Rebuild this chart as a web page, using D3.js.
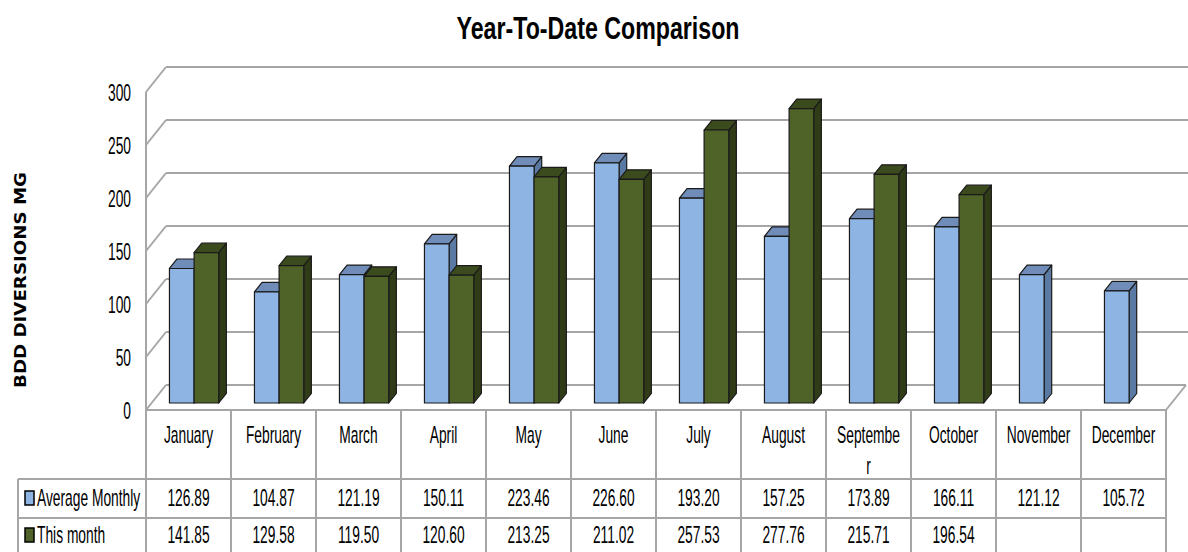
<!DOCTYPE html>
<html>
<head>
<meta charset="utf-8">
<script src="https://cdn.jsdelivr.net/npm/d3@7"></script>
<style>
  body { margin: 0; background: #fff; }
  svg { display: block; }
  text { font-family: "Liberation Sans", Arial, sans-serif; fill: #000; }
</style>
</head>
<body>
<div id="chart"></div>
<script>
const months = ["January", "February", "March", "April", "May", "June", "July", "August", "September", "October", "November", "December"];
const seriesNames = ["Average Monthly", "This month"];
const avgMonthly = [126.89, 104.87, 121.19, 150.11, 223.46, 226.60, 193.20, 157.25, 173.89, 166.11, 121.12, 105.72];
const thisMonth = [141.85, 129.58, 119.50, 120.60, 213.25, 211.02, 257.53, 277.76, 215.71, 196.54, null, null];
const yTicks = [0, 50, 100, 150, 200, 250, 300];

const seriesValues = [avgMonthly, thisMonth];
const colors = [
  { front: "#8db4e2", top: "#6f8db8", side: "#5b7aa3" },
  { front: "#4f6228", top: "#3c4b1e", side: "#303c17" }
];

const width = 1188, height = 552;
const svg = d3.select("#chart").append("svg")
  .attr("width", width)
  .attr("height", height);

// plot area (front plane) and 3d depth
const left = 146, right = 1166;
const dx = 20, dy = -25;
const barF = 0.28, barB = 0.66; // bar front/back depth fractions
const gridColor = "#a6a6a6";
const squeeze = 0.6; // narrow look of the original font
const fs = 23;

const cols = d3.scaleBand().domain(months).range([left, right]);
const x0 = d3.scaleBand().domain(months).range([left, right]).paddingInner(0.42).paddingOuter(0.21);
const x1 = d3.scaleBand().domain(seriesNames).range([0, x0.bandwidth()]);
const y = d3.scaleLinear().domain([0, 300]).range([410, 92]);

function narrowText(g, x, yy, txt, size, anchor) {
  return g.append("text")
    .attr("transform", `translate(${x},${yy}) scale(${squeeze},1)`)
    .attr("text-anchor", anchor || "middle")
    .attr("dominant-baseline", "central")
    .attr("font-size", size)
    .text(txt);
}

// title
svg.append("text")
  .attr("x", 598)
  .attr("y", 39)
  .attr("text-anchor", "middle")
  .attr("font-size", 32)
  .attr("font-weight", "bold")
  .attr("textLength", 283)
  .attr("lengthAdjust", "spacingAndGlyphs")
  .text("Year-To-Date Comparison");

// y axis title
svg.append("text")
  .attr("transform", "translate(26,280) rotate(-90)")
  .attr("text-anchor", "middle")
  .style("font-family", "'DejaVu Sans', sans-serif")
  .attr("font-size", 16)
  .attr("font-weight", "bold")
  .attr("textLength", 216)
  .attr("lengthAdjust", "spacingAndGlyphs")
  .text("BDD DIVERSIONS MG");

// walls: left wall diagonals + back wall gridlines
const walls = svg.append("g")
  .attr("stroke", gridColor)
  .attr("stroke-width", 2)
  .attr("fill", "none");

walls.selectAll("line.diag")
  .data(yTicks)
  .enter().append("line")
  .attr("x1", left).attr("y1", d => y(d))
  .attr("x2", left + dx).attr("y2", d => y(d) + dy);

walls.selectAll("line.back")
  .data(yTicks)
  .enter().append("line")
  .attr("x1", left + dx).attr("y1", d => y(d) + dy)
  .attr("x2", d => d === 0 ? right + dx : width).attr("y2", d => y(d) + dy);

// floor right edge
walls.append("line")
  .attr("x1", right).attr("y1", y(0))
  .attr("x2", right + dx).attr("y2", y(0) + dy);

// front vertical axis line
walls.append("line")
  .attr("x1", left).attr("y1", y(300))
  .attr("x2", left).attr("y2", y(0));

// y tick labels
const tickG = svg.append("g");
yTicks.forEach(t => narrowText(tickG, 131, y(t) + 1, t, fs, "end"));

// bars
const bars = svg.append("g")
  .attr("stroke", "#1a1a1a")
  .attr("stroke-width", 1.2)
  .attr("stroke-linejoin", "round");

const ddx = dx * (barB - barF), ddy = dy * (barB - barF);
months.forEach((m, i) => {
  seriesNames.forEach((s, j) => {
    const v = seriesValues[j][i];
    if (v == null) return;
    const xl = x0(m) + x1(s) + dx * barF;
    const xr = xl + x1.bandwidth();
    const yb = y(0) + dy * barF;
    const yt = y(v) + dy * barF;
    const c = colors[j];
    bars.append("polygon")
      .attr("points", [[xr, yt], [xr + ddx, yt + ddy], [xr + ddx, yb + ddy], [xr, yb]].join(" "))
      .attr("fill", c.side);
    bars.append("polygon")
      .attr("points", [[xl, yt], [xl + ddx, yt + ddy], [xr + ddx, yt + ddy], [xr, yt]].join(" "))
      .attr("fill", c.top);
    bars.append("rect")
      .attr("x", xl).attr("y", yt)
      .attr("width", xr - xl).attr("height", yb - yt)
      .attr("fill", c.front);
  });
});

// data table
const table = svg.append("g");
const tLines = table.append("g")
  .attr("stroke", gridColor)
  .attr("stroke-width", 2);

const rowTop = 479, rowMid = 518, rowBottom = 552;

tLines.append("line")
  .attr("x1", left).attr("y1", y(0))
  .attr("x2", right).attr("y2", y(0));
tLines.selectAll("line.col")
  .data(months.map(m => cols(m)).concat([right]))
  .enter().append("line")
  .attr("x1", d => d).attr("y1", y(0))
  .attr("x2", d => d).attr("y2", rowBottom);
[rowTop, rowMid].forEach(ry => {
  tLines.append("line")
    .attr("x1", 18).attr("y1", ry)
    .attr("x2", right).attr("y2", ry);
});
tLines.append("line")
  .attr("x1", 18).attr("y1", rowTop)
  .attr("x2", 18).attr("y2", rowBottom);

// month labels, wrapped by character like the original cell
const maxLabel = 65;
months.forEach(m => {
  const cx = cols(m) + cols.bandwidth() / 2;
  const t = narrowText(table, cx, 435, m, fs);
  if (t.node().getComputedTextLength() * squeeze > maxLabel) {
    let cut = m.length - 1;
    t.text(m.slice(0, cut));
    while (t.node().getComputedTextLength() * squeeze > maxLabel && cut > 1) {
      cut--;
      t.text(m.slice(0, cut));
    }
    narrowText(table, cx, 466, m.slice(cut), fs);
  }
});

// value rows with legend keys
const rowY = [498, 535];
seriesNames.forEach((s, j) => {
  table.append("rect")
    .attr("x", 25).attr("y", rowY[j] - 7)
    .attr("width", 9).attr("height", 14)
    .attr("fill", colors[j].front)
    .attr("stroke", "#000")
    .attr("stroke-width", 1.5);
  narrowText(table, 37, rowY[j], s, fs, "start");
  months.forEach((m, i) => {
    const v = seriesValues[j][i];
    if (v == null) return;
    narrowText(table, cols(m) + cols.bandwidth() / 2, rowY[j], v.toFixed(2), fs);
  });
});
</script>
</body>
</html>
